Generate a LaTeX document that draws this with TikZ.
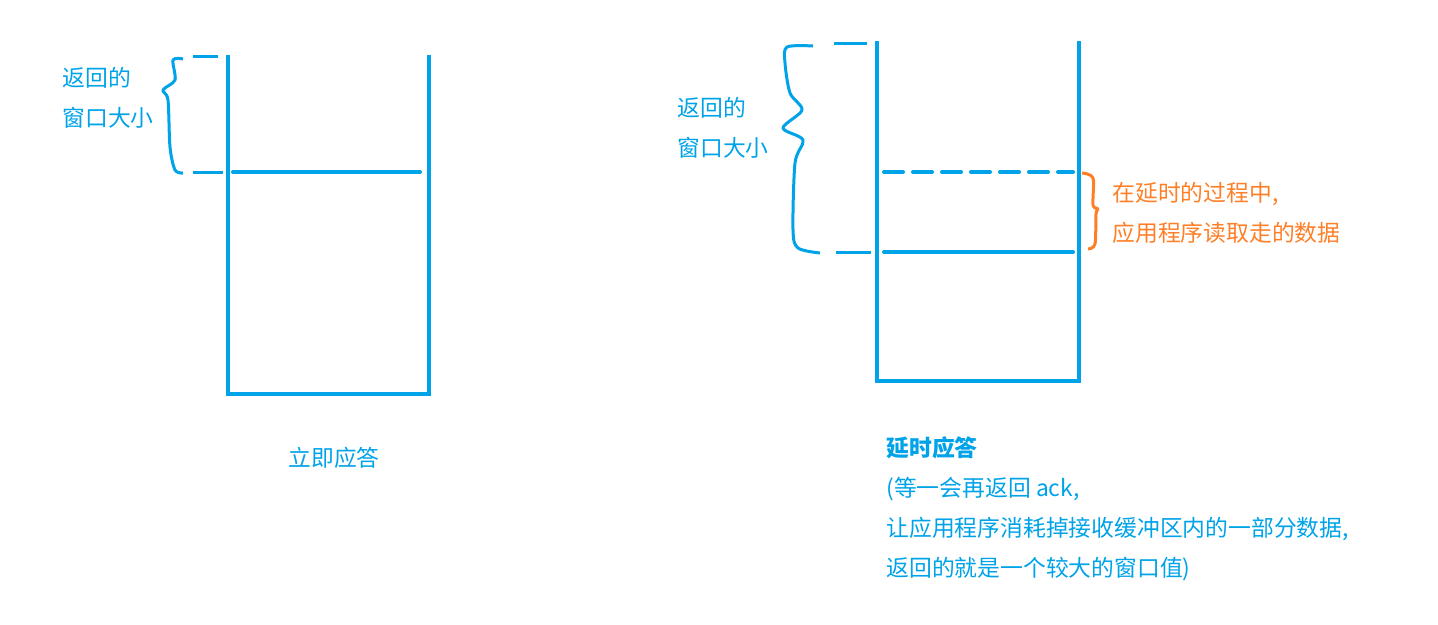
\documentclass[tikz,border=0pt]{standalone}
\usepackage{fontspec}
\setmainfont{Noto Sans CJK SC}
\usepackage{tikz}
\usetikzlibrary{positioning, calc}
\definecolor{myblue}{RGB}{0,162,232}
\definecolor{myorange}{RGB}{255,127,39}
\tikzset{
  wall/.style={line width=2pt, color=myblue},
  level/.style={line width=2pt, color=myblue, line cap=round},
  tick/.style={line width=1.5pt, color=myblue},
  brace/.style={line width=1.5pt, color=myblue, line join=round},
  note/.style={font=\fontsize{11.4}{20}\selectfont, color=myblue,
    align=left, inner sep=0pt, anchor=west},
  onote/.style={note, color=myorange}
}
\begin{document}
\begin{tikzpicture}[x=0.5pt, y=-0.5pt]
  \useasboundingbox (0,0) rectangle (1438,625);

  % Immediate ack buffer
  \draw[wall] (228,55) -- (228,394) -- (429,394) -- (429,55);
  \draw[level] (233,172) -- (420,172);
  \draw[tick] (193,57) -- (218,57);
  \draw[tick] (193,173) -- (223,173);
  \draw[brace] plot[smooth, tension=0.5] coordinates {(183,59) (173,60) (175,80) (163,90) (168,100) (170,147) (175,170) (183,173)};
  \node[note] (leftwin) at (62,98) {返回的\\窗口大小};
  \node[note, anchor=center] (nowack) at (334,458) {立即应答};

  % Delayed ack buffer
  \draw[wall] (877,41) -- (877,381) -- (1079,381) -- (1079,41);
  \draw[level, dash pattern=on 9.5pt off 5pt] (884,172) -- (1073,172);
  \draw[level] (884,252) -- (1073,252);
  \draw[tick] (834,44) -- (867,44);
  \draw[tick] (836,253) -- (871,253);
  \draw[brace] plot[smooth, tension=0.5] coordinates {(813,46) (787,47) (785,63) (790,93) (802,110) (783,128) (803,140) (795,163) (793,230) (798,248) (820,253)};
  \node[note] (rightwin) at (677,128) {返回的\\窗口大小};

  % Data read by the application
  \draw[brace, color=myorange] plot[smooth, tension=0.5] coordinates {(1082,173) (1093,178) (1093,205) (1098,209) (1096,214) (1095,244) (1088,249)};
  \node[onote] (readout) at (1112,213) {在延时的过程中,\\应用程序读取走的数据};

  \node[note] (delayack) at (886,509) {\textbf{延时应答}\\(等一会再返回 ack,\\让应用程序消耗掉接收缓冲区内的一部分数据,\\返回的就是一个较大的窗口值)};
\end{tikzpicture}
\end{document}
